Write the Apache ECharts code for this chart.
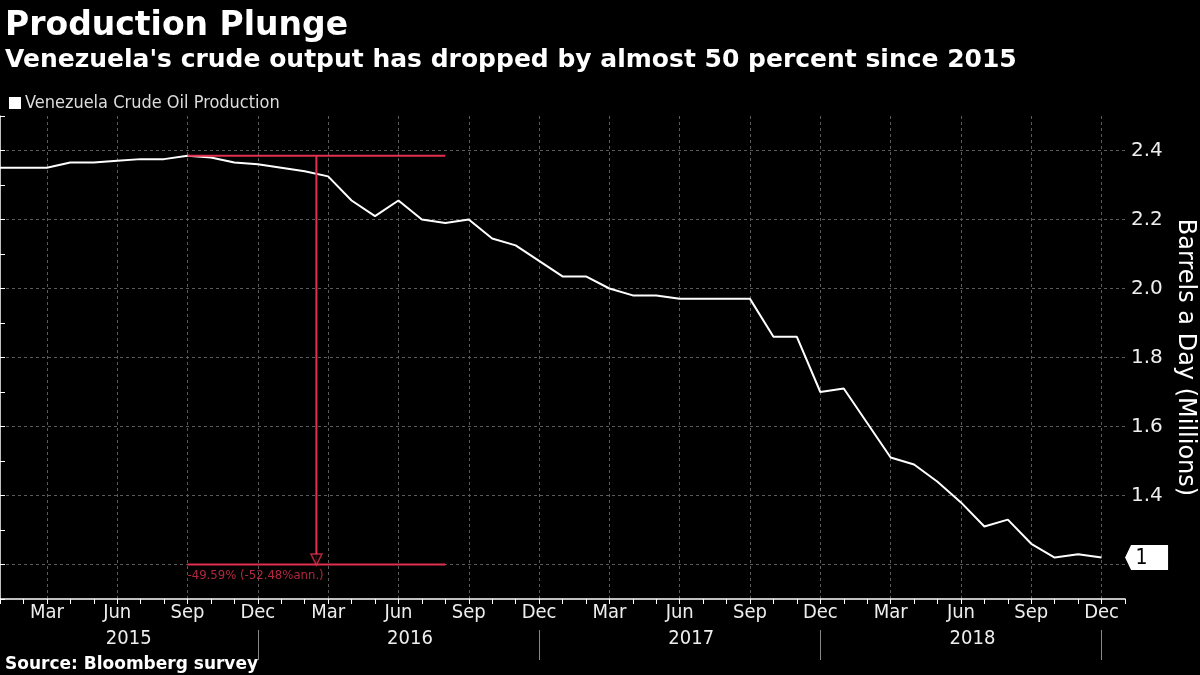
<!DOCTYPE html>
<html>
<head>
<meta charset="utf-8">
<script src="https://cdn.jsdelivr.net/npm/echarts@6/dist/echarts.min.js"></script>
<style>
  html, body { margin: 0; padding: 0; background: #000; }
  #chart { width: 1200px; height: 675px; }
</style>
</head>
<body>
<div id="chart"></div>
<script>
// monthly categories Jan 2015 .. Jan 2019 (last one is only the axis end)
const months = [
  '2015-01','2015-02','2015-03','2015-04','2015-05','2015-06','2015-07','2015-08','2015-09','2015-10','2015-11','2015-12',
  '2016-01','2016-02','2016-03','2016-04','2016-05','2016-06','2016-07','2016-08','2016-09','2016-10','2016-11','2016-12',
  '2017-01','2017-02','2017-03','2017-04','2017-05','2017-06','2017-07','2017-08','2017-09','2017-10','2017-11','2017-12',
  '2018-01','2018-02','2018-03','2018-04','2018-05','2018-06','2018-07','2018-08','2018-09','2018-10','2018-11','2018-12',
  '2019-01'
]
const monthNames = ['Jan','Feb','Mar','Apr','May','Jun','Jul','Aug','Sep','Oct','Nov','Dec']

// Venezuela crude oil production, millions of barrels a day
const production = [
  2.35, 2.35, 2.35, 2.365, 2.365, 2.37, 2.375, 2.375, 2.385, 2.38, 2.365, 2.36,
  2.35, 2.34, 2.325, 2.255, 2.21, 2.255, 2.20, 2.19, 2.20, 2.145, 2.125, 2.08,
  2.035, 2.035, 2.00, 1.98, 1.98, 1.97, 1.97, 1.97, 1.97, 1.86, 1.86, 1.70,
  1.71, 1.61, 1.51, 1.49, 1.44, 1.38, 1.31, 1.33, 1.26, 1.22, 1.23, 1.22
]

// y axis ticks
const yMin = 1.1
const yMax = 2.5
const yStep = 0.1

// drawdown annotation (month index, values)
const measureStart = 8
const measureEnd = 19
const measureHigh = 2.385
const measureLow = 1.2
const measureText = '-49.59% (-52.48%ann.)'
const lastValueText = '1'

const font = "'DejaVu Sans Condensed', 'DejaVu Sans', sans-serif"
const wideFont = "'DejaVu Sans', sans-serif"
const red = '#e0314f'
const gridColor = '#5a5a5a'
const measureMid = (measureStart + measureEnd) / 2

const chart = echarts.init(document.getElementById('chart'))

const option = {
  backgroundColor: '#000',
  animation: false,
  textStyle: { fontFamily: font },
  title: [
    {
      text: 'Production Plunge',
      subtext: "Venezuela's crude output has dropped by almost 50 percent since 2015",
      left: 0,
      top: 5,
      itemGap: 5,
      textStyle: { color: '#fff', fontSize: 33, fontWeight: 'bold', fontFamily: wideFont },
      subtextStyle: { color: '#fff', fontSize: 25, fontWeight: 'bold', fontFamily: wideFont }
    },
    {
      text: 'Source: Bloomberg survey',
      left: 0,
      top: 651,
      textStyle: { color: '#fff', fontSize: 17, fontWeight: 'bold', fontFamily: wideFont }
    }
  ],
  legend: {
    left: 4,
    top: 89,
    icon: 'rect',
    itemWidth: 12,
    itemHeight: 12,
    itemGap: 4,
    data: ['Venezuela Crude Oil Production'],
    textStyle: { color: '#ddd', fontSize: 18, fontFamily: font, padding: [0, 0, 0, -1] }
  },
  grid: { left: 0, right: 75, top: 116, bottom: 76, outerBoundsMode: 'none' },
  xAxis: [
    {
      type: 'category',
      data: months,
      boundaryGap: false,
      axisLine: { lineStyle: { color: '#fff', width: 1.5 } },
      axisTick: { interval: 0, length: 5, lineStyle: { color: '#fff' } },
      axisLabel: {
        color: '#eee',
        fontSize: 20,
        margin: 4,
        interval: (i) => i % 3 === 2,
        formatter: (v) => monthNames[Number(v.slice(5)) - 1]
      },
      splitLine: {
        show: true,
        interval: (i) => i % 3 === 2,
        lineStyle: { color: gridColor, type: [3, 3] }
      }
    },
    {
      // year row under the months
      type: 'category',
      data: months,
      boundaryGap: false,
      position: 'bottom',
      offset: 31,
      axisLine: { show: false },
      axisTick: {
        interval: (i) => i % 12 === 11,
        length: 30,
        lineStyle: { color: '#888' }
      },
      axisLabel: {
        color: '#eee',
        fontSize: 20,
        margin: -1,
        padding: [0, 0, 0, 23],
        interval: (i) => i % 12 === 5,
        formatter: (v) => v.slice(0, 4)
      }
    },
    {
      // plain month index axis for the annotation
      type: 'value',
      show: false,
      min: 0,
      max: months.length - 1
    }
  ],
  yAxis: {
    type: 'value',
    position: 'right',
    min: yMin,
    max: yMax,
    interval: yStep,
    name: 'Barrels a Day (Millions)',
    nameLocation: 'middle',
    nameRotate: -90,
    nameGap: 46,
    nameTextStyle: { color: '#fff', fontSize: 24, fontFamily: wideFont },
    axisLine: { show: true, lineStyle: { color: '#fff', width: 1.5 } },
    axisTick: { show: true, length: 5, lineStyle: { color: '#fff' } },
    axisLabel: {
      color: '#eee',
      fontSize: 20,
      margin: 6,
      fontFamily: wideFont,
      formatter: (v) => (Math.round(v * 10) % 2 === 0 ? v.toFixed(1) : '')
    },
    splitLine: {
      show: true,
      lineStyle: { color: ['rgba(0,0,0,0)', gridColor], type: [3, 3] }
    }
  },
  series: [
    {
      name: 'Venezuela Crude Oil Production',
      type: 'line',
      data: production,
      showSymbol: false,
      symbol: 'none',
      z: 3,
      itemStyle: { color: '#fff' },
      lineStyle: { color: '#fff', width: 2 },
      markPoint: {
        silent: true,
        symbol: 'path://M0,12.5 L6,0 L43,0 L43,25 L6,25 Z',
        symbolSize: [43, 25],
        symbolKeepAspect: false,
        symbolOffset: [45, 0],
        itemStyle: { color: '#fff' },
        label: {
          show: true,
          position: 'inside',
          offset: [-5, 1],
          color: '#000',
          fontSize: 21,
          fontFamily: font,
          formatter: lastValueText
        },
        data: [{ coord: [months[production.length - 1], production[production.length - 1]] }]
      }
    },
    {
      // top of the measured range
      type: 'line',
      xAxisIndex: 2,
      data: [[measureStart, measureHigh], [measureEnd, measureHigh]],
      symbol: 'none',
      silent: true,
      z: 4,
      lineStyle: { color: red, width: 2 }
    },
    {
      // bottom of the measured range
      type: 'line',
      xAxisIndex: 2,
      data: [[measureStart, measureLow], [measureEnd, measureLow]],
      symbol: 'none',
      silent: true,
      z: 4,
      lineStyle: { color: red, width: 2 }
    },
    {
      // vertical drop line
      type: 'line',
      xAxisIndex: 2,
      data: [[measureMid, measureHigh], [measureMid, measureLow]],
      symbol: 'none',
      silent: true,
      z: 4,
      lineStyle: { color: red, width: 2 }
    },
    {
      // arrow head
      type: 'scatter',
      xAxisIndex: 2,
      data: [[measureMid, measureLow]],
      symbol: 'path://M0,0 L10,0 L5,11 Z',
      symbolSize: [11, 11],
      symbolOffset: [0, -5],
      silent: true,
      z: 5,
      itemStyle: { color: '#000', borderColor: red, borderWidth: 1.5 }
    },
    {
      // change text under the measured range
      type: 'scatter',
      xAxisIndex: 2,
      data: [[measureStart, measureLow]],
      symbolSize: 1,
      silent: true,
      z: 5,
      itemStyle: { color: 'rgba(0,0,0,0)' },
      label: {
        show: true,
        position: 'bottom',
        align: 'left',
        distance: 4,
        color: red,
        fontSize: 13,
        fontFamily: font,
        formatter: measureText
      }
    }
  ]
}

chart.setOption(option)
</script>
</body>
</html>
